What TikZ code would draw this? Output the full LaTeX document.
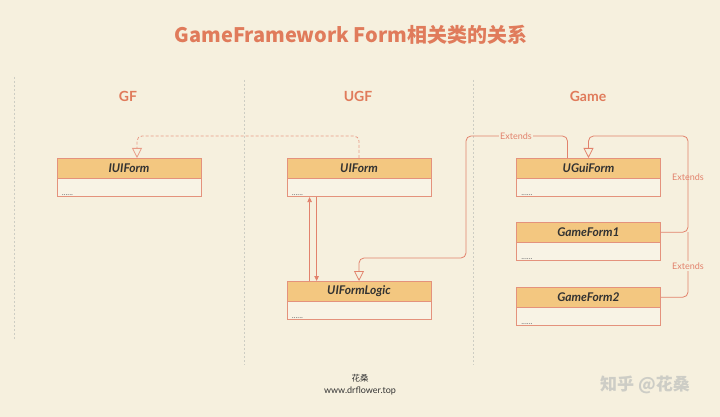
\documentclass[tikz,border=0pt]{standalone}
\usepackage{fontspec}
\setmainfont{Lato}
\newfontfamily\cjk{Noto Sans CJK SC}
\newfontfamily\lato{Lato}
\usetikzlibrary{arrows.meta,calc}
\definecolor{bg}{RGB}{246,240,222}
\definecolor{coral}{RGB}{224,123,91}
\definecolor{hdrfill}{RGB}{243,199,128}
\definecolor{bodyfill}{RGB}{248,243,229}
\definecolor{border}{RGB}{228,146,124}
\definecolor{conncol}{RGB}{226,130,108}
\definecolor{dashcol}{RGB}{232,155,135}
\definecolor{divcol}{RGB}{205,205,195}
\definecolor{classtext}{RGB}{50,50,50}
\definecolor{wm}{RGB}{205,205,198}
\newcommand\umlclass[5]{%
  \node[hdr, anchor=north] (#1) at (#2,#3) {#4};
  \node[bdy, anchor=north] (#1-b) at (#1.south) {};
  \node[dots, anchor=south west] (#1-d) at ([xshift=4pt,yshift=0pt]#1-b.south west) {......};
}
\tikzset{
  hdr/.style={draw=border, fill=hdrfill, line width=0.8pt, minimum width=144pt, minimum height=19.5pt, inner sep=0pt,
    font=\lato\bfseries\itshape\fontsize{12}{14}\selectfont, text=classtext},
  bdy/.style={draw=border, fill=bodyfill, line width=0.8pt, minimum width=144pt, minimum height=18pt, inner sep=0pt},
  dots/.style={font=\fontsize{8}{8}\selectfont, text=classtext!65, inner sep=1pt},
  conn/.style={draw=conncol, line width=0.8pt},
  realize/.style={draw=dashcol, line width=0.8pt, dash pattern=on 3pt off 2pt},
  opentri/.style={-{Triangle[length=10pt,width=10pt,fill=bg]}},
  smalltri/.style={-{Triangle[length=5pt,width=4.5pt]}},
  divider/.style={draw=divcol, line width=0.7pt, dash pattern=on 2pt off 2pt},
  extlbl/.style={font=\lato\fontsize{9}{10}\selectfont, text=conncol, inner sep=1.5pt},
  colhead/.style={font=\lato\bfseries\fontsize{14}{16}\selectfont, text=coral},
}
\begin{document}
\begin{tikzpicture}[x=1pt,y=-1pt]
\fill[bg] (0,0) rectangle (720,417);
\useasboundingbox (0,0) rectangle (720,417);

% title
\node[font=\cjk\bfseries\fontsize{20}{24}\selectfont, text=coral] (title) at (351,35) {GameFramework Form相关类的关系};

% dividers
\draw[divider] (14,77) -- (14,340);
\draw[divider] (244,80) -- (244,365);
\draw[divider] (473,80) -- (473,365);

% column headers
\node[colhead] (hgf) at (128,96) {GF};
\node[colhead] (hugf) at (358,96) {UGF};
\node[colhead] (hgame) at (588,96) {Game};

% classes
\umlclass{iuiform}{129}{158}{IUIForm}{}
\umlclass{uiform}{359}{158}{UIForm}{}
\umlclass{ugui}{588.5}{158}{UGuiForm}{}
\umlclass{gf1}{588.5}{222}{GameForm1}{}
\umlclass{gf2}{588.5}{287}{GameForm2}{}
\umlclass{logic}{359}{281}{UIFormLogic}{}

\coordinate (top) at (0,136);
\coordinate (c1) at (466,258);
\coordinate (rx) at (688,0);

% realization UIForm -> IUIForm
\draw[realize, rounded corners=5pt, opentri] (uiform.north) -- (uiform.north |- top) -- ([xshift=8pt]iuiform.north |- top) -- ([xshift=8pt]iuiform.north);

% UIForm <-> UIFormLogic
\draw[conn, smalltri] ([xshift=23pt]logic.north west) -- ([xshift=23pt]uiform-b.south west);
\draw[conn, smalltri] ([xshift=30pt]uiform-b.south west) -- ([xshift=30pt]logic.north west);

% UGuiForm extends UIFormLogic
\draw[conn, rounded corners=5pt, opentri] ([xshift=-21pt]ugui.north) -- ([xshift=-21pt]ugui.north |- top) -- (c1 |- top) -- (c1) -- (logic.north |- c1) -- (logic.north);
\node[extlbl, fill=bg] (e1) at (516,136.5) {Extends};

% GameForm1/2 extend UGuiForm
\draw[conn, rounded corners=5pt, opentri] (gf1.east) -- (gf1.east -| rx) -- (rx |- top) -- (ugui.north |- top) -- (ugui.north);
\draw[conn, rounded corners=5pt] (gf2.east) -- (gf2.east -| rx) -- (gf1.east -| rx);
\node[extlbl] (e2) at (688,177) {Extends};
\node[extlbl, fill=bg] (e3) at (688,266) {Extends};

% footer
\node[font=\cjk\fontsize{8.5}{9}\selectfont, text=classtext] (f1) at (360,378) {花桑};
\node[font=\lato\fontsize{9}{10}\selectfont, text=classtext] (f2) at (360,391) {www.drflower.top};

% watermark
\node[font=\cjk\bfseries\fontsize{17}{20}\selectfont, text=wm] (wmk) at (645,385) {知乎 @花桑};
\end{tikzpicture}
\end{document}
